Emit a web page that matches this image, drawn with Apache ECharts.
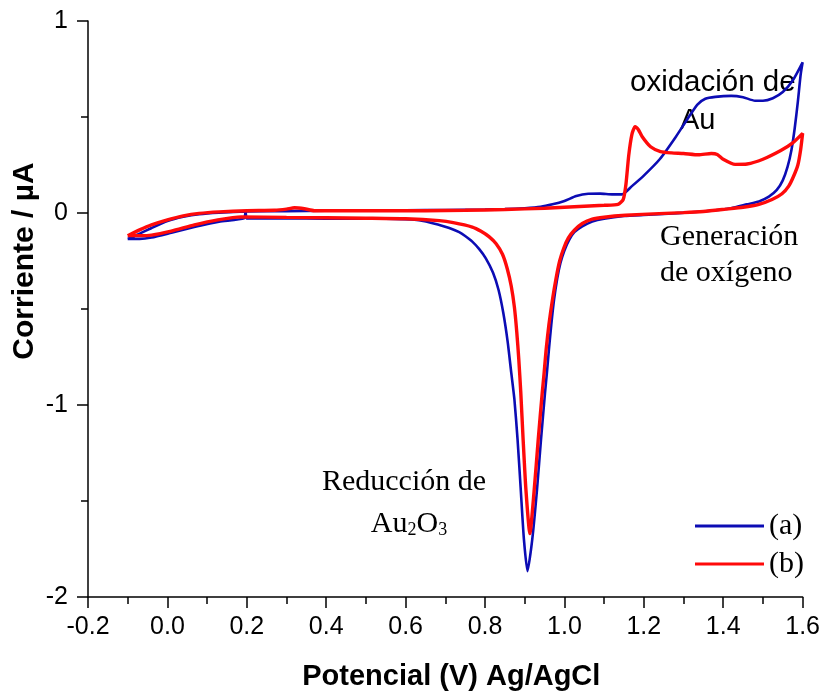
<!DOCTYPE html>
<html>
<head>
<meta charset="utf-8">
<script src="https://cdn.jsdelivr.net/npm/echarts@6/dist/echarts.min.js"></script>
<style>
  html, body { margin: 0; padding: 0; background: #fff; overflow: hidden; }
  #chart { width: 823px; height: 696px; }
</style>
</head>
<body>
<div id="chart"></div>
<script>
// Cyclic voltammograms: [potential (V vs Ag/AgCl), current (µA)]
// Each loop: anodic sweep -0.1 → 1.6 V, then cathodic sweep back to -0.1 V.
const curveA = [
  [-0.10, -0.135], [-0.07, -0.108], [-0.04, -0.078], [0.00, -0.042], [0.04, -0.020],
  [0.08, -0.006], [0.13, 0.002], [0.20, 0.008], [0.30, 0.010], [0.40, 0.012],
  [0.50, 0.013], [0.60, 0.014], [0.70, 0.016], [0.80, 0.018], [0.85, 0.020],
  [0.90, 0.025], [0.94, 0.032], [0.97, 0.045], [1.00, 0.063], [1.03, 0.088],
  [1.06, 0.100], [1.09, 0.101], [1.12, 0.097], [1.145, 0.097], [1.17, 0.140],
  [1.20, 0.195], [1.24, 0.280], [1.28, 0.395], [1.31, 0.490], [1.335, 0.565],
  [1.355, 0.595], [1.38, 0.605], [1.42, 0.610], [1.45, 0.603], [1.48, 0.585],
  [1.50, 0.585], [1.525, 0.598], [1.55, 0.630], [1.575, 0.690], [1.60, 0.785],
  [1.595, 0.720], [1.588, 0.580], [1.580, 0.440], [1.572, 0.330], [1.562, 0.240],
  [1.550, 0.170], [1.535, 0.120], [1.515, 0.085], [1.49, 0.060], [1.46, 0.045],
  [1.42, 0.025], [1.37, 0.012], [1.32, 0.004], [1.25, -0.005], [1.20, -0.010],
  [1.15, -0.016], [1.10, -0.030], [1.07, -0.045], [1.045, -0.070], [1.025, -0.100],
  [1.012, -0.140], [1.000, -0.195], [0.990, -0.260], [0.982, -0.340], [0.974, -0.450],
  [0.967, -0.580], [0.961, -0.710], [0.956, -0.830], [0.951, -0.940], [0.941, -1.180],
  [0.931, -1.440], [0.919, -1.700], [0.907, -1.866], [0.898, -1.700], [0.890, -1.440],
  [0.882, -1.180], [0.874, -0.970], [0.866, -0.830], [0.857, -0.670], [0.846, -0.520],
  [0.834, -0.400], [0.820, -0.310], [0.802, -0.236], [0.785, -0.187], [0.768, -0.149],
  [0.750, -0.120], [0.735, -0.100], [0.710, -0.078], [0.685, -0.062], [0.634, -0.038],
  [0.55, -0.030], [0.45, -0.030], [0.35, -0.029], [0.25, -0.028], [0.200, -0.028],
  [0.197, 0.006], [0.193, -0.028], [0.13, -0.045], [0.07, -0.072], [0.01, -0.103],
  [-0.04, -0.128], [-0.07, -0.135], [-0.10, -0.135]
];

const curveB = [
  [-0.10, -0.118], [-0.07, -0.088], [-0.04, -0.062], [0.00, -0.036], [0.04, -0.015],
  [0.08, -0.002], [0.13, 0.006], [0.20, 0.012], [0.27, 0.014], [0.30, 0.020],
  [0.32, 0.027], [0.345, 0.022], [0.37, 0.012], [0.45, 0.012], [0.55, 0.012],
  [0.65, 0.012], [0.75, 0.014], [0.85, 0.018], [0.95, 0.025], [1.05, 0.035],
  [1.10, 0.040], [1.135, 0.045], [1.148, 0.070], [1.155, 0.150], [1.162, 0.300],
  [1.170, 0.410], [1.178, 0.450], [1.186, 0.435], [1.196, 0.397], [1.217, 0.345],
  [1.242, 0.320], [1.27, 0.313], [1.30, 0.310], [1.338, 0.303], [1.37, 0.310],
  [1.385, 0.305], [1.40, 0.280], [1.43, 0.253], [1.46, 0.255], [1.50, 0.280],
  [1.545, 0.325], [1.575, 0.365], [1.60, 0.415],
  [1.595, 0.330], [1.588, 0.250], [1.577, 0.190], [1.565, 0.140], [1.548, 0.100],
  [1.523, 0.070], [1.49, 0.045], [1.45, 0.030], [1.406, 0.020], [1.35, 0.008],
  [1.30, 0.002], [1.238, -0.003], [1.154, -0.012], [1.10, -0.022], [1.07, -0.032],
  [1.045, -0.055], [1.025, -0.090], [1.010, -0.130], [0.998, -0.185], [0.988, -0.250],
  [0.979, -0.340], [0.970, -0.450], [0.961, -0.580], [0.954, -0.710], [0.949, -0.830],
  [0.944, -0.940], [0.934, -1.180], [0.924, -1.440], [0.913, -1.670], [0.903, -1.440],
  [0.896, -1.180], [0.890, -0.930], [0.885, -0.760], [0.880, -0.620], [0.874, -0.490],
  [0.866, -0.380], [0.856, -0.290], [0.844, -0.215], [0.828, -0.160], [0.810, -0.123],
  [0.790, -0.095], [0.768, -0.073], [0.72, -0.050], [0.685, -0.040], [0.60, -0.030],
  [0.50, -0.027], [0.40, -0.025], [0.30, -0.023], [0.186, -0.020], [0.127, -0.036],
  [0.068, -0.062], [0.01, -0.094], [-0.04, -0.115], [-0.07, -0.118], [-0.10, -0.118]
];

const seriesNames = ['(a)', '(b)'];
const seriesColors = ['#0c0cb4', '#ff0a0a'];

const xRange = { min: -0.2, max: 1.6, interval: 0.2 };
const yRange = { min: -2, max: 1, interval: 1 };

const SANS = 'Liberation Sans, Arial, sans-serif';
const SERIF = 'Liberation Serif, Times New Roman, serif';

const chart = echarts.init(document.getElementById('chart'), null, { renderer: 'canvas' });

chart.setOption({
  animation: false,
  backgroundColor: '#fff',
  grid: { left: 88, right: 19, top: 21, bottom: 98, containLabel: false },
  xAxis: {
    type: 'value',
    min: xRange.min, max: xRange.max, interval: xRange.interval,
    name: 'Potencial (V) Ag/AgCl',
    nameLocation: 'middle',
    nameGap: 65,
    nameTextStyle: { fontFamily: SANS, fontWeight: 'bold', fontSize: 29, color: '#000',
                     padding: [0, 0, 0, 12] },
    axisLine: { onZero: false, lineStyle: { color: '#000', width: 1.5 } },
    axisTick: { show: true, inside: false, length: 11, lineStyle: { color: '#000', width: 1.5 } },
    minorTick: { show: true, splitNumber: 2, length: 7, lineStyle: { color: '#000', width: 1.5 } },
    splitLine: { show: false },
    axisLabel: {
      margin: 18, fontFamily: SANS, fontSize: 25, color: '#000',
      showMinLabel: true, showMaxLabel: true,
      formatter: v => v.toFixed(1)
    }
  },
  yAxis: {
    type: 'value',
    min: yRange.min, max: yRange.max, interval: yRange.interval,
    axisLine: { onZero: false, lineStyle: { color: '#000', width: 1.5 } },
    axisTick: { show: true, inside: false, length: 11, lineStyle: { color: '#000', width: 1.5 } },
    minorTick: { show: true, splitNumber: 2, length: 7, lineStyle: { color: '#000', width: 1.5 } },
    splitLine: { show: false },
    axisLabel: {
      margin: 20, fontFamily: SANS, fontSize: 25, color: '#000',
      formatter: v => String(v)
    }
  },
  legend: {
    orient: 'vertical',
    left: 690, top: 506,
    icon: 'rect',
    itemWidth: 69, itemHeight: 3,
    itemGap: 8,
    textStyle: { fontFamily: SERIF, fontSize: 30, color: '#000' },
    data: seriesNames
  },
  series: [
    {
      name: seriesNames[0], type: 'line', data: curveA,
      color: seriesColors[0], showSymbol: false, symbol: 'none', smooth: 0.2,
      lineStyle: { width: 2.6, color: seriesColors[0] }, z: 2
    },
    {
      name: seriesNames[1], type: 'line', data: curveB,
      color: seriesColors[1], showSymbol: false, symbol: 'none', smooth: 0.2,
      lineStyle: { width: 3.4, color: seriesColors[1] }, z: 3
    }
  ],
  graphic: [
    {
      type: 'text', x: 25, y: 261, rotation: Math.PI / 2,
      style: { text: 'Corriente / µA', font: 'bold 30px ' + SANS, fill: '#000',
               textAlign: 'center', textVerticalAlign: 'middle' }
    },
    {
      type: 'text', x: 630, y: 83,
      style: { text: 'oxidación de', font: '29.5px ' + SANS, fill: '#000',
               textAlign: 'left', textVerticalAlign: 'middle' }
    },
    {
      type: 'text', x: 680, y: 121,
      style: { text: 'Au', font: '29px ' + SANS, fill: '#000',
               textAlign: 'left', textVerticalAlign: 'middle' }
    },
    {
      type: 'text', x: 660, y: 237,
      style: { text: 'Generación', font: '30px ' + SERIF, fill: '#000',
               textAlign: 'left', textVerticalAlign: 'middle' }
    },
    {
      type: 'text', x: 660, y: 273,
      style: { text: 'de oxígeno', font: '30px ' + SERIF, fill: '#000',
               textAlign: 'left', textVerticalAlign: 'middle' }
    },
    {
      type: 'text', x: 404, y: 482,
      style: { text: 'Reducción de', font: '30px ' + SERIF, fill: '#000',
               textAlign: 'center', textVerticalAlign: 'middle' }
    },
    {
      type: 'text', x: 409, y: 524,
      style: {
        text: '{m|Au}{s|2}{m|O}{s|3}',
        textAlign: 'center', textVerticalAlign: 'middle',
        rich: {
          m: { fontFamily: SERIF, fontSize: 30, lineHeight: 30, verticalAlign: 'top', fill: '#000', color: '#000' },
          s: { fontFamily: SERIF, fontSize: 18, lineHeight: 18, padding: [22, 0, 0, 0], verticalAlign: 'bottom', fill: '#000', color: '#000' }
        }
      }
    }
  ]
});
</script>
</body>
</html>
